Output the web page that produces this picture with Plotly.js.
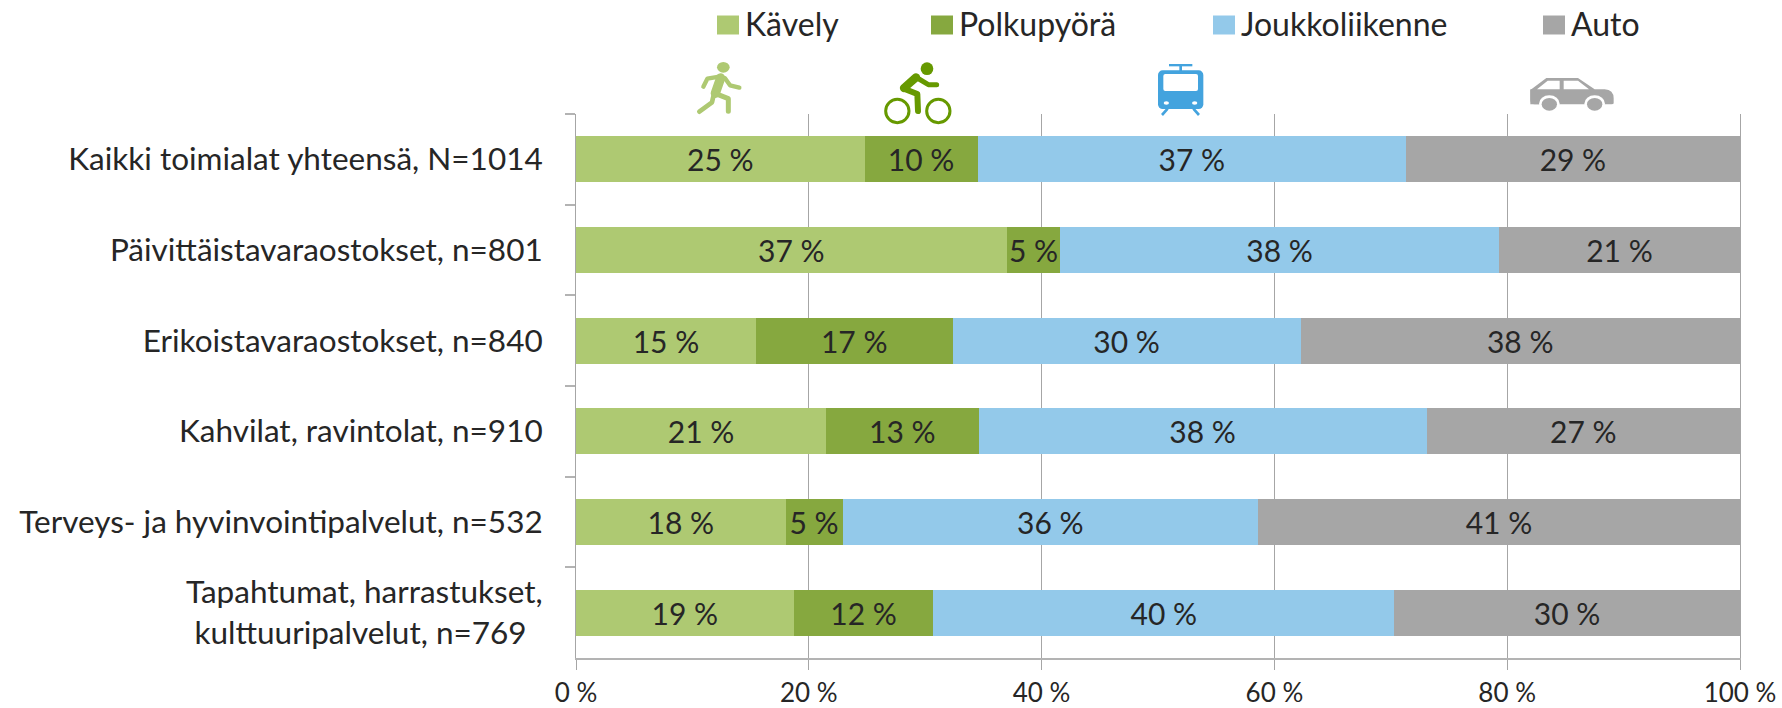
<!DOCTYPE html>
<html>
<head>
<meta charset="utf-8">
<script src="https://cdn.plot.ly/plotly-3.0.1.min.js"></script>
<style>html,body{margin:0;padding:0;background:#fff}#chart{width:1782px;height:708px}</style>
</head>
<body>
<div id="chart"></div>
<script>
const categories = [
  "Kaikki toimialat yhteensä, N=1014",
  "Päivittäistavaraostokset, n=801",
  "Erikoistavaraostokset, n=840",
  "Kahvilat, ravintolat, n=910",
  "Terveys- ja hyvinvointipalvelut, n=532",
  "Tapahtumat, harrastukset,<br>kulttuuripalvelut, n=769&nbsp;&nbsp;"
];
const kavely = [24.8, 37.0, 15.45, 21.49, 18.0, 18.7];
const polkupyora = [9.7, 4.6, 16.9, 13.1, 4.9, 12.0];
const joukkoliikenne = [36.8, 37.7, 29.9, 38.49, 35.7, 39.6];
const auto = [28.69, 20.69, 37.74, 26.91, 41.39, 29.69];

const seriesNames = ["Kävely", "Polkupyörä", "Joukkoliikenne", "Auto"];
const seriesValues = [kavely, polkupyora, joukkoliikenne, auto];
const seriesColors = ["#AEC972", "#86A83F", "#93C9EA", "#A6A6A6"];
const xTicks = [0, 20, 40, 60, 80, 100];

const FONT = "Lato, 'Open Sans', sans-serif";
const TEXT = "#262626";
const W = 1782, H = 708;
const M = {l: 576, r: 42, t: 114, b: 50};
const pw = W - M.l - M.r, ph = H - M.t - M.b;

const traces = seriesNames.map((name, i) => ({
  type: "bar", orientation: "h", name,
  y: categories, x: seriesValues[i],
  text: seriesValues[i].map(v => Math.round(v) + " %"),
  textposition: "inside", insidetextanchor: "middle", textangle: 0,
  constraintext: "none", cliponaxis: false,
  insidetextfont: {family: FONT, size: 30, color: TEXT},
  marker: {color: seriesColors[i], line: {width: 0}},
  hoverinfo: "x+y+name"
}));

function svgUri(vb, body) {
  const s = `<svg xmlns="http://www.w3.org/2000/svg" width="${vb[2]/3}" height="${vb[3]/3}" viewBox="${vb.join(' ')}">${body}</svg>`;
  return "data:image/svg+xml;charset=utf-8," + encodeURIComponent(s);
}
function icon(px, py, vb, body) {
  return {
    source: svgUri(vb, body), xref: "paper", yref: "paper",
    x: (px - M.l) / pw, y: (H - M.b - py) / ph,
    sizex: (vb[2] / 3) / pw, sizey: (vb[3] / 3) / ph,
    xanchor: "left", yanchor: "top", sizing: "stretch", layer: "above"
  };
}
const walk = `<g fill="none" stroke="#AEC972" stroke-linecap="round" stroke-linejoin="round">
<ellipse cx="130" cy="52" rx="19" ry="16" fill="#AEC972" stroke="none"/>
<path d="M118,80 L82,86 L70,110" stroke-width="13"/>
<path d="M122,84 L106,130" stroke-width="28"/>
<path d="M135,85 L150,106 L178,113" stroke-width="13"/>
<path d="M101,135 L96,157 L58,185" stroke-width="14"/>
<path d="M105,130 L145,146 L145,184" stroke-width="15"/></g>`;
const bike = `<g fill="none" stroke="#669900" stroke-linecap="round" stroke-linejoin="round">
<circle cx="741" cy="56" r="19" fill="#669900" stroke="none"/>
<path d="M708,82 L672,114" stroke-width="25"/>
<path d="M712,84 L745,104 L770,104" stroke-width="15"/>
<path d="M672,116 L712,132 L714,183" stroke-width="18"/>
<circle cx="652" cy="183" r="35" stroke-width="9"/>
<circle cx="775" cy="183" r="35" stroke-width="9"/></g>`;
const tram = `<g fill="#43A3DE">
<rect x="117" y="42" width="70" height="7"/><rect x="148" y="48" width="8" height="16"/>
<rect x="84" y="61" width="136" height="116" rx="14"/>
<rect x="100" y="72" width="104" height="51" rx="6" fill="#fff"/>
<ellipse cx="109" cy="159" rx="8" ry="5" fill="#fff"/><ellipse cx="194" cy="159" rx="8" ry="5" fill="#fff"/>
<path d="M113,176 L96,195 M190,176 L207,195" stroke="#43A3DE" stroke-width="8" fill="none"/></g>`;
const car = `<path fill="#A6A6A6" d="M1202,120 L1250,84 H1345 L1395,118 H1425 Q1452,120 1452,145 V160 Q1452,163 1445,163 H1202 Z"/>
<path fill="#A6A6A6" d="M1202,118 H1230 V163 H1215 Q1202,163 1202,150 Z"/>
<path fill="#fff" d="M1222,118 L1254,92 H1290 V118 Z M1302,92 H1345 L1378,118 H1302 Z"/>
<ellipse cx="1259" cy="161" rx="31" ry="25" fill="#fff"/><ellipse cx="1395" cy="161" rx="31" ry="25" fill="#fff"/>
<rect x="1195" y="165" width="265" height="30" fill="#fff"/>
<ellipse cx="1259" cy="163" rx="23" ry="19" fill="#A6A6A6"/><ellipse cx="1395" cy="163" rx="23" ry="19" fill="#A6A6A6"/>`;

const layout = {
  width: W, height: H, barmode: "stack", bargap: 0.495,
  paper_bgcolor: "#fff", plot_bgcolor: "#fff",
  font: {family: FONT, size: 32, color: TEXT},
  margin: {l: M.l, r: M.r, t: M.t, b: M.b, pad: 0, autoexpand: false},
  showlegend: true,
  legend: {
    orientation: "h", xref: "paper", yref: "paper", x: 0.1, xanchor: "left",
    y: 1.2, yanchor: "top", traceorder: "normal",
    font: {family: FONT, size: 32, color: TEXT}, bgcolor: "rgba(0,0,0,0)"
  },
  xaxis: {
    range: [0, 100], tickvals: xTicks, ticktext: xTicks.map(v => v + " %"),
    showgrid: true, gridcolor: "#A6A6A6", gridwidth: 1,
    showline: true, linecolor: "#B3B3B3", linewidth: 2,
    ticks: "outside", ticklen: 10, tickcolor: "#A6A6A6", tickwidth: 1,
    ticklabelstandoff: 1,
    tickfont: {family: FONT, size: 26, color: TEXT}, zeroline: false, fixedrange: true
  },
  yaxis: {
    type: "category", categoryorder: "array", categoryarray: categories, autorange: "reversed",
    showline: true, mirror: true, linecolor: "#A6A6A6", linewidth: 1, showgrid: false,
    tickson: "boundaries", ticks: "outside", ticklen: 10, tickcolor: "#B3B3B3", tickwidth: 2,
    ticklabelstandoff: 26, tickfont: {family: FONT, size: 31.5, color: TEXT}, fixedrange: true
  },
  images: [
    icon(680, 50, [0, 0, 200, 200], walk),
    icon(880, 60, [600, 30, 225, 200], bike),
    icon(1150, 60, [60, 30, 175, 175], tram),
    icon(1528, 76, [1195, 78, 265, 110], car)
  ]
};

const legendX = [708, 922, 1204, 1534]; // item offsets in page pixels
const legendY = 25;                      // item centre line in page pixels
function placeLegend(gd) {
  const leg = gd.querySelector(".legend");
  if (!leg) return;
  const box = leg.querySelector(".scrollbox");
  if (box) box.removeAttribute("clip-path");
  const m = (leg.getAttribute("transform") || "").match(/translate\(([-\d.]+)[ ,]*([-\d.]*)/);
  const ox = m ? parseFloat(m[1]) : 0, oy = m ? parseFloat(m[2] || 0) : 0;
  leg.querySelectorAll(".traces").forEach((t, i) => {
    t.setAttribute("transform", `translate(${legendX[i] - ox},${legendY - oy})`);
    t.querySelectorAll(".legendpoints path").forEach(p => p.setAttribute("d", "M11,9.5H-11V-9.5H11Z"));
    const lt = t.querySelector(".legendtext");
    if (lt) { lt.setAttribute("x", 37); lt.setAttribute("y", parseFloat(lt.getAttribute("y") || 0) - 1); }
  });
}
const gd = document.getElementById("chart");
Plotly.newPlot(gd, traces, layout, {displayModeBar: false, responsive: false}).then(() => {
  placeLegend(gd);
  gd.on("plotly_afterplot", () => placeLegend(gd));
});
</script>
</body>
</html>
